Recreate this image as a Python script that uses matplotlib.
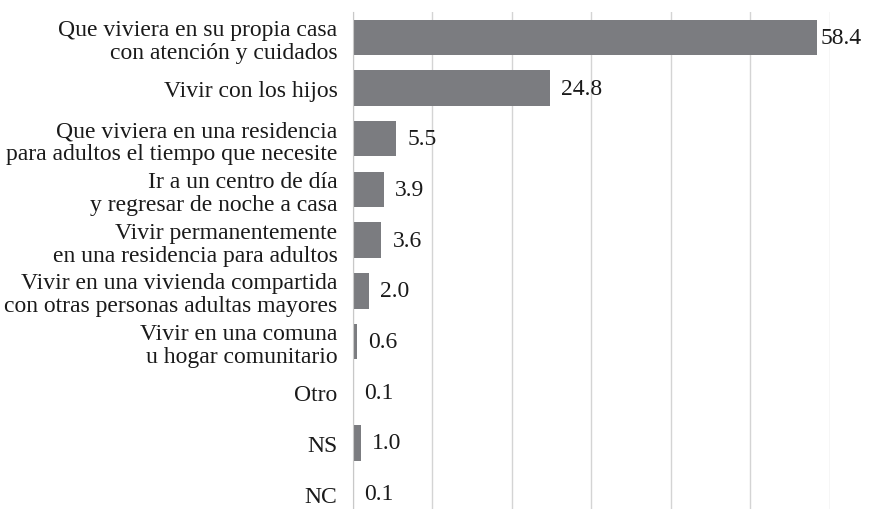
import numpy as np
from matplotlib import pyplot as plt

plt.rcParams['font.family'] = 'serif'
plt.rcParams['font.serif'] = ['Liberation Serif', 'DejaVu Serif']

categories = [
    "Que viviera en su propia casa\ncon atención y cuidados",
    "Vivir con los hijos",
    "Que viviera en una residencia\npara adultos el tiempo que necesite",
    "Ir a un centro de día\ny regresar de noche a casa",
    "Vivir permanentemente\nen una residencia para adultos",
    "Vivir en una vivienda compartida\ncon otras personas adultas mayores",
    "Vivir en una comuna\nu hogar comunitario",
    "Otro",
    "NS",
    "NC",
]
values = [58.4, 24.8, 5.5, 3.9, 3.6, 2.0, 0.6, 0.1, 1.0, 0.1]

fig = plt.figure(figsize=(8.96, 5.10), dpi=100)
ax = fig.add_axes([352.7 / 896, -10 / 510, (830 - 352.7) / 896, (497 + 10) / 510])

y = np.arange(len(values))
ax.barh(y, values, height=0.7, color="#7b7c80", zorder=2)
ax.set_ylim(len(values) - 0.5, -0.5)
ax.set_xlim(0, 60)
ax.set_xticks(np.arange(0, 61, 10))
ax.xaxis.grid(True, color="#d4d4d4", linewidth=1.0, zorder=0)
ax.tick_params(axis="x", length=0, labelbottom=False)
ax.tick_params(axis="y", length=0, pad=11)
ax.set_yticks(y)
ax.set_yticklabels(categories, fontsize=17, linespacing=1.12, color="#1a1a1a")
for s in ["top", "right", "bottom"]:
    ax.spines[s].set_visible(False)
ax.spines["left"].set_color("#c8c8c8")

for yi, v in zip(y, values):
    off = 2.5 if v > 50 else 8
    ax.annotate(f"{v:.1f}", (v, yi), xytext=(off, 0), textcoords="offset points",
                va="center", ha="left", fontsize=17, color="#1a1a1a")

fig.savefig("out.png", dpi=100)
